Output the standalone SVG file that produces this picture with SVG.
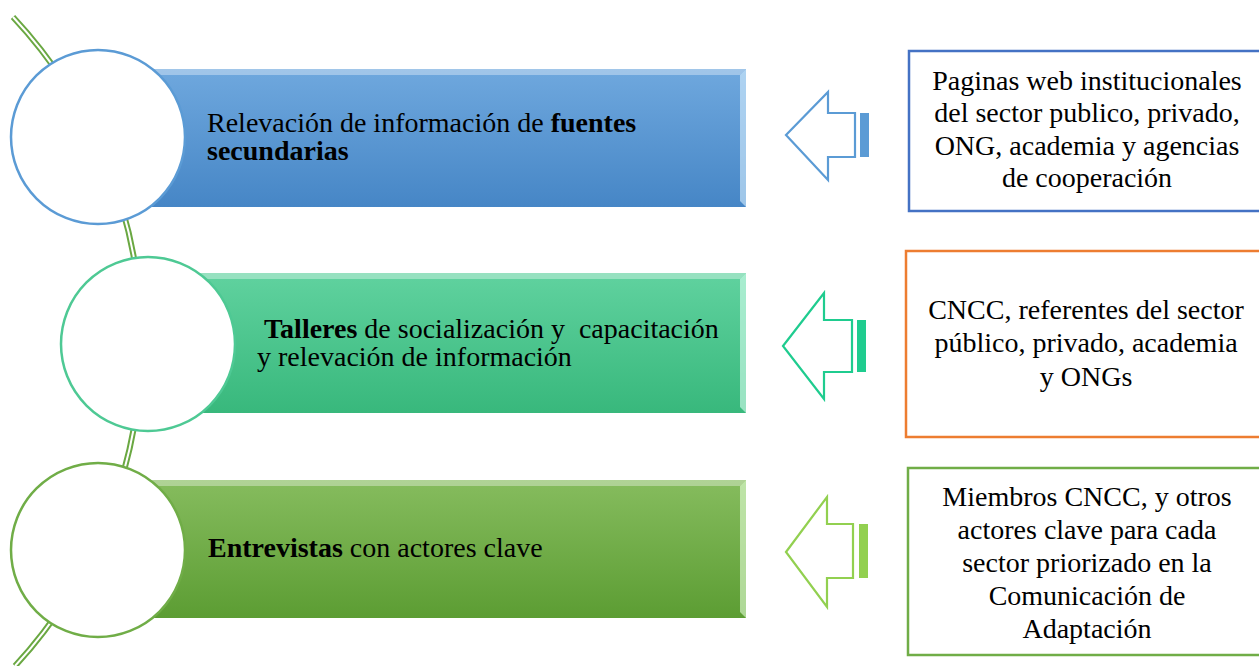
<svg xmlns="http://www.w3.org/2000/svg" width="1259" height="666" viewBox="0 0 1259 666">
<style>
text{font-family:"Liberation Serif",Tinos,"Times New Roman",serif;font-size:28px;fill:#000}
.b{font-weight:bold}
.ctr{text-anchor:middle}
.circ{fill:#fff;stroke-width:2.5}
.arr{fill:#fff;stroke-width:2.2;stroke-linejoin:miter}
.box{fill:#fff;stroke-width:2.5}
.hl{fill:#fff;opacity:0.35}
.edge{opacity:0.6}
</style>
<defs>
<linearGradient id="gBlue" x1="0" y1="0" x2="0" y2="1">
<stop offset="0" stop-color="#6fa8de"/><stop offset="1" stop-color="#4686c6"/>
</linearGradient>
<linearGradient id="gTeal" x1="0" y1="0" x2="0" y2="1">
<stop offset="0" stop-color="#60d29f"/><stop offset="1" stop-color="#38b87c"/>
</linearGradient>
<linearGradient id="gGreen" x1="0" y1="0" x2="0" y2="1">
<stop offset="0" stop-color="#86bc5e"/><stop offset="1" stop-color="#5c9d33"/>
</linearGradient>
</defs>

<g id="connectors">
<path d="M13,17 A476.8,476.8 0 0 1 15,666" fill="none" stroke="#6aa842" stroke-width="6"/>
<path d="M13,17 A476.8,476.8 0 0 1 15,666" fill="none" stroke="#fff" stroke-width="2"/>
</g>

<g id="bar-1">
<rect x="98" y="69" width="648" height="138" fill="url(#gBlue)"/>
<polygon class="hl" points="98,69 746,69 740,75 98,75"/>
<polygon class="edge" points="740,75 746,69 746,207 740,201" fill="#d8f0ff"/>
<text x="207" y="132">Relevación de información de <tspan class="b">fuentes</tspan></text>
<text x="207" y="160" class="b">secundarias</text>
</g>
<g id="bar-2">
<rect x="148" y="273" width="598" height="140" fill="url(#gTeal)"/>
<polygon class="hl" points="148,273 746,273 740,279 148,279"/>
<polygon class="edge" points="740,279 746,273 746,413 740,407" fill="#d8fff0"/>
<text x="264" y="338" xml:space="preserve"><tspan class="b">Talleres</tspan> de socialización y  capacitación</text>
<text x="257" y="366">y relevación de información</text>
</g>
<g id="bar-3">
<rect x="98" y="480" width="648" height="138" fill="url(#gGreen)"/>
<polygon class="hl" points="98,480 746,480 740,486 98,486"/>
<polygon class="edge" points="740,486 746,480 746,618 740,612" fill="#e4ffd8"/>
<text x="208" y="557"><tspan class="b">Entrevistas</tspan> con actores clave</text>
</g>

<g id="circle-1"><circle class="circ" cx="98" cy="137" r="87" stroke="#5b9bd5"/></g>
<g id="circle-2"><circle class="circ" cx="148" cy="344" r="87" stroke="#4ec994"/></g>
<g id="circle-3"><circle class="circ" cx="98" cy="550" r="87" stroke="#70ad47"/></g>

<g id="arrow-1">
<polygon class="arr" stroke="#5b9bd5" points="786,135 828,92 828,113 855,113 855,157 828,157 828,180"/>
<rect x="860" y="113" width="9" height="44" fill="#5b9bd5"/>
</g>
<g id="arrow-2">
<polygon class="arr" stroke="#1fcc8f" points="783,346 824,293 824,320 852,320 852,372 824,372 824,399"/>
<rect x="857" y="320" width="9" height="52" fill="#1fcc8f"/>
</g>
<g id="arrow-3">
<polygon class="arr" stroke="#92d050" points="786,552 827,497 827,524 853,524 853,578 827,578 827,607"/>
<rect x="859" y="524" width="9" height="54" fill="#92d050"/>
</g>

<g id="source-1">
<rect class="box" x="909" y="51" width="360" height="160" stroke="#4472c4"/>
<text class="ctr" x="1087" y="90">Paginas web institucionales</text>
<text class="ctr" x="1087" y="122">del sector publico, privado,</text>
<text class="ctr" x="1087" y="155">ONG, academia y agencias</text>
<text class="ctr" x="1087" y="187">de cooperación</text>
</g>
<g id="source-2">
<rect class="box" x="906" y="251" width="360" height="186" stroke="#ed7d31"/>
<text class="ctr" x="1086" y="319">CNCC, referentes del sector</text>
<text class="ctr" x="1086" y="352">público, privado, academia</text>
<text class="ctr" x="1086" y="386">y ONGs</text>
</g>
<g id="source-3">
<rect class="box" x="908" y="468" width="360" height="187" stroke="#70ad47"/>
<text class="ctr" x="1087" y="506">Miembros CNCC, y otros</text>
<text class="ctr" x="1087" y="539">actores clave para cada</text>
<text class="ctr" x="1087" y="572">sector priorizado en la</text>
<text class="ctr" x="1087" y="605">Comunicación de</text>
<text class="ctr" x="1087" y="638">Adaptación</text>
</g>
</svg>
